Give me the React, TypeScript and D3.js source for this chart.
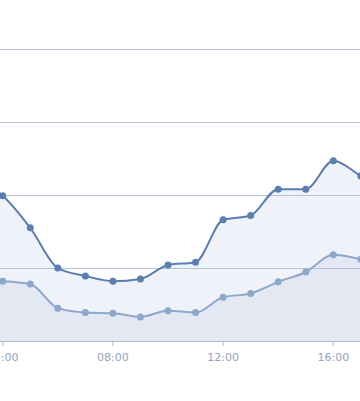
import React from "react";
import * as d3 from "d3";

const hours = [3, 4, 5, 6, 7, 8, 9, 10, 11, 12, 13, 14, 15, 16, 17, 18];
const seriesA = [22.3, 19.9, 15.5, 10.0, 8.9, 8.2, 8.5, 10.4, 10.8, 16.6, 17.2, 20.8, 20.8, 24.7, 22.6, 20.5];
const seriesB = [8.3, 8.2, 7.8, 4.5, 3.9, 3.8, 3.3, 4.15, 3.9, 6.0, 6.5, 8.1, 9.45, 11.8, 11.2, 10.2];
const tickHours = [4, 8, 12, 16];
const gridValues = [10, 20, 30, 40];

const W = 360;
const H = 401;

export default function App() {
  const x = d3.scaleLinear().domain([4, 16]).range([2.7, 333.3]);
  const y = d3.scaleLinear().domain([0, 50]).range([341, -24]);
  const pad = (h: number) => String(h).padStart(2, "0") + ":00";

  const areaGen = (vals: number[]) =>
    d3
      .area<number>()
      .x((_, i) => x(hours[i]))
      .y0(y(0))
      .y1((d) => y(d))
      .curve(d3.curveMonotoneX)(vals) as string;
  const lineGen = (vals: number[]) =>
    d3
      .line<number>()
      .x((_, i) => x(hours[i]))
      .y((d) => y(d))
      .curve(d3.curveMonotoneX)(vals) as string;

  return (
    <svg
      width={W}
      height={H}
      style={{ position: "absolute", left: 0, top: 0, background: "#fff" }}
      fontFamily="DejaVu Sans, sans-serif"
    >
      <defs>
        <clipPath id="plot">
          <rect x={0} y={0} width={W} height={342} />
        </clipPath>
      </defs>
      <g clipPath="url(#plot)">
        <path d={areaGen(seriesA)} fill="#eff2f8" />
        <path d={areaGen(seriesB)} fill="#e3e8f2" />
        {gridValues.map((v) => (
          <line key={v} x1={0} x2={W} y1={y(v) + 0.5} y2={y(v) + 0.5} stroke="#b7c4d6" strokeWidth={1} />
        ))}
        <path d={lineGen(seriesB)} fill="none" stroke="#8ea8cc" strokeWidth={2} />
        {seriesB.map((d, i) => (
          <circle key={"b" + i} cx={x(hours[i])} cy={y(d)} r={3.5} fill="#8ea8cc" />
        ))}
        <path d={lineGen(seriesA)} fill="none" stroke="#5a7eb0" strokeWidth={2} />
        {seriesA.map((d, i) => (
          <circle key={"a" + i} cx={x(hours[i])} cy={y(d)} r={3.5} fill="#5a7eb0" />
        ))}
      </g>
      <line x1={0} x2={W} y1={341.5} y2={341.5} stroke="#a9b9d1" strokeWidth={1} />
      {tickHours.map((h) => (
        <g key={h} transform={`translate(${x(h)},0)`}>
          <line y1={341} y2={346} stroke="#a9b9d1" strokeWidth={1} />
          <text y={361} textAnchor="middle" fontSize={11} fill="#8ea3c4">
            {pad(h)}
          </text>
        </g>
      ))}
    </svg>
  );
}
